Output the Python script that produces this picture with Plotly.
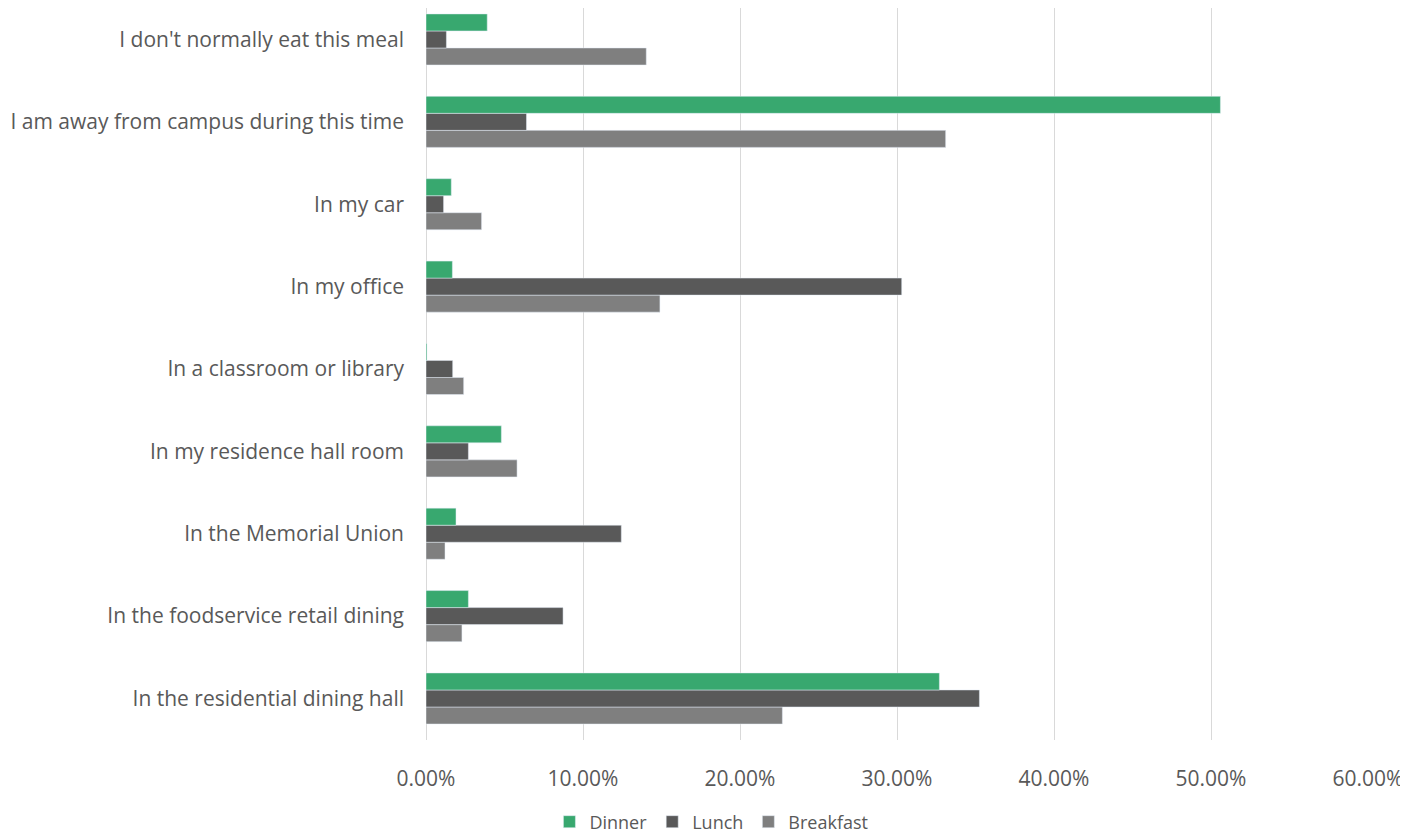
import plotly.graph_objects as go

# categories from bottom to top
locations = [
    "In the residential dining hall",
    "In the foodservice retail dining",
    "In the Memorial Union",
    "In my residence hall room",
    "In a classroom or library",
    "In my office",
    "In my car",
    "I am away from campus during this time",
    "I don't normally eat this meal",
]

breakfast = [0.227, 0.0229, 0.0121, 0.058, 0.024, 0.149, 0.0354, 0.331, 0.1403]
lunch = [0.3525, 0.0873, 0.1244, 0.027, 0.017, 0.303, 0.0112, 0.064, 0.013]
dinner = [0.327, 0.027, 0.0191, 0.048, 0.0006, 0.0168, 0.0161, 0.506, 0.039]

x_ticks = [0, 0.1, 0.2, 0.3, 0.4, 0.5, 0.6]

FONT = "Open Sans"
TXT = "#595959"

fig = go.Figure()
# first trace sits lowest inside each group
fig.add_trace(go.Bar(y=locations, x=breakfast, name="Breakfast", orientation="h",
                     marker=dict(color="#7f7f7f")))
fig.add_trace(go.Bar(y=locations, x=lunch, name="Lunch", orientation="h",
                     marker=dict(color="#595959")))
fig.add_trace(go.Bar(y=locations, x=dinner, name="Dinner", orientation="h",
                     marker=dict(color="#38a86f")))

fig.update_layout(
    width=1400, height=833,
    barmode="group",
    bargap=0.38,
    bargroupgap=0,
    paper_bgcolor="white",
    plot_bgcolor="white",
    margin=dict(l=418, r=40, t=0, b=101),
    font=dict(family=FONT, color=TXT),
    legend=dict(
        orientation="h",
        traceorder="reversed",
        x=0.303, xanchor="center",
        y=-0.112, yanchor="middle",
        font=dict(size=18, color=TXT),
        itemwidth=30,
    ),
    xaxis=dict(
        range=[0, 0.6],
        tickvals=x_ticks,
        tickformat=".2%",
        showgrid=True,
        gridcolor="#d9d9d9",
        gridwidth=1,
        zeroline=True,
        zerolinecolor="#d9d9d9",
        zerolinewidth=1,
        showline=False,
        ticks="",
        ticklabelstandoff=24,
        tickfont=dict(size=21, color=TXT),
        automargin=False,
    ),
    yaxis=dict(
        range=[-0.504, 8.382],
        showgrid=False,
        showline=False,
        ticks="",
        ticklabelstandoff=21,
        tickfont=dict(size=21, color=TXT),
        automargin=False,
    ),
)

fig.write_html("out.html")
